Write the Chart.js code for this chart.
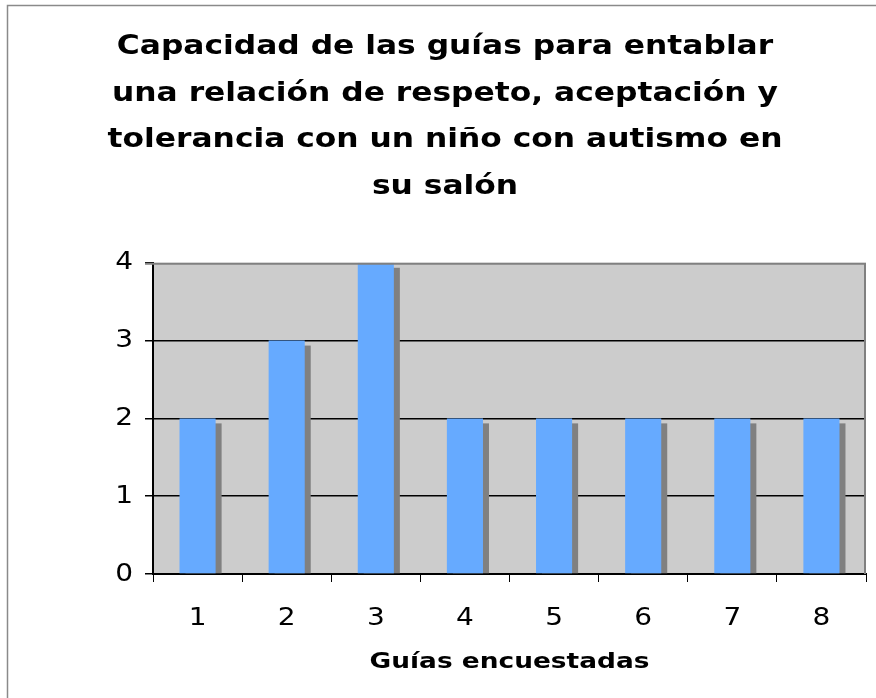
<!DOCTYPE html>
<html>
<head>
<meta charset="utf-8">
<script src="https://cdn.jsdelivr.net/npm/chart.js@4.4.0/dist/chart.umd.min.js"></script>
<style>
  html, body { margin: 0; padding: 0; background: #fff; }
  #wrap { width: 876px; height: 698px; }
</style>
</head>
<body>
<div id="wrap"><canvas id="guiasChart" width="876" height="698"></canvas></div>
<script>
var guias = ["1", "2", "3", "4", "5", "6", "7", "8"];
var capacidad = [2, 3, 4, 2, 2, 2, 2, 2];
var yTicks = [0, 1, 2, 3, 4];

var titulo = [
  "Capacidad de las guías para entablar",
  "una relación de respeto, aceptación y",
  "tolerancia con un niño con autismo en",
  "su salón"
];

// the original text is stretched sideways; widen glyphs per font size
function estirar(font) {
  if (/bold/.test(font) && /27px/.test(font)) return 1.16;
  if (/bold/.test(font) && /22px/.test(font)) return 1.2;
  if (/25px/.test(font)) return 1.12;
  return 1;
}

// fondo gris, sombras de las barras y marco
var decoracion = {
  id: "decoracion",
  beforeInit: function (chart) {
    var c = chart.ctx;
    var orig = c.fillText;
    c.fillText = function (t, x, y, mw) {
      var sx = estirar(c.font);
      if (sx === 1) {
        return mw === undefined ? orig.call(c, t, x, y) : orig.call(c, t, x, y, mw);
      }
      c.save();
      c.translate(x, y);
      c.scale(sx, 1);
      orig.call(c, t, 0, 0);
      c.restore();
    };
  },
  beforeDraw: function (chart) {
    var ctx = chart.ctx, a = chart.chartArea;
    ctx.save();
    ctx.fillStyle = "#fff";
    ctx.fillRect(0, 0, chart.width, chart.height);
    ctx.strokeStyle = "#8a8a8a";
    ctx.lineWidth = 1.5;
    ctx.beginPath();
    ctx.moveTo(7.5, chart.height);
    ctx.lineTo(7.5, 5.5);
    ctx.lineTo(chart.width, 5.5);
    ctx.stroke();
    ctx.fillStyle = "#cccccc";
    ctx.fillRect(a.left, a.top, a.right - a.left, a.bottom - a.top);
    ctx.restore();
  },
  beforeDatasetsDraw: function (chart) {
    var ctx = chart.ctx;
    var bars = chart.getDatasetMeta(0).data;
    ctx.save();
    ctx.fillStyle = "#808080";
    bars.forEach(function (b) {
      var w = b.width;
      ctx.fillRect(b.x - w / 2 + 6, b.y + 5, w, b.base - b.y - 5);
    });
    ctx.restore();
  },
  afterDraw: function (chart) {
    var ctx = chart.ctx, a = chart.chartArea;
    ctx.save();
    ctx.strokeStyle = "#808080";
    ctx.lineWidth = 2;
    ctx.beginPath();
    ctx.moveTo(a.left - 8, a.top + 1);
    ctx.lineTo(a.right - 1, a.top + 1);
    ctx.lineTo(a.right - 1, a.bottom);
    ctx.stroke();
    ctx.restore();
  }
};

var ctx = document.getElementById("guiasChart");
var guiasChart = new Chart(ctx, {
  type: "bar",
  data: {
    labels: guias,
    datasets: [
      {
        data: capacidad,
        backgroundColor: "#66aaff",
        borderWidth: 0,
        categoryPercentage: 1,
        barPercentage: 0.405
      }
    ]
  },
  options: {
    responsive: false,
    animation: false,
    layout: { padding: { left: 24, right: 10, top: 0, bottom: 8 } },
    plugins: {
      legend: { display: false },
      tooltip: { enabled: false },
      title: {
        display: true,
        text: titulo,
        color: "#000",
        font: { family: "DejaVu Sans", size: 27, weight: "bold", lineHeight: 1.72 },
        padding: { top: 24, bottom: 53 }
      }
    },
    scales: {
      x: {
        offset: true,
        grid: {
          offset: true,
          drawOnChartArea: false,
          drawTicks: true,
          tickLength: 8,
          tickColor: "#000",
          tickWidth: 1
        },
        border: { display: true, color: "#000", width: 2 },
        ticks: {
          color: "#000",
          padding: 21,
          font: { family: "DejaVu Sans", size: 25 }
        },
        title: {
          display: true,
          text: "Guías encuestadas",
          color: "#000",
          font: { family: "DejaVu Sans", size: 22, weight: "bold" },
          padding: { top: 0, bottom: 15 }
        },
        afterFit: function (s) { s.height = 116; }
      },
      y: {
        min: 0,
        max: 4,
        afterBuildTicks: function (s) {
          s.ticks = yTicks.map(function (v) { return { value: v }; });
        },
        grid: {
          color: function (c) {
            return c.tick && c.tick.value > 0 && c.tick.value < 4 ? "#000" : "rgba(0,0,0,0)";
          },
          lineWidth: 1.5,
          tickLength: 8,
          tickColor: "#000",
          tickWidth: 1.5
        },
        border: { display: true, color: "#000", width: 2 },
        ticks: {
          color: "#000",
          padding: 12,
          font: { family: "DejaVu Sans", size: 25 }
        },
        afterFit: function (s) { s.width = 129; }
      }
    }
  },
  plugins: [decoracion]
});
</script>
</body>
</html>
